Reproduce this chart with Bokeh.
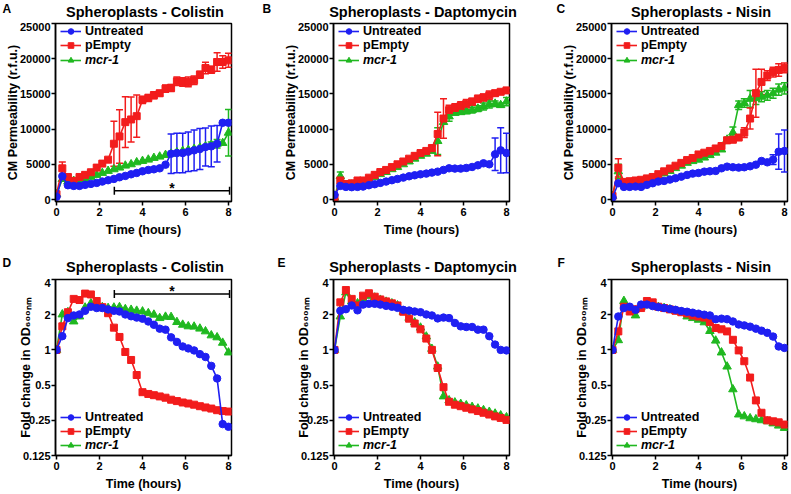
from bokeh.plotting import figure
from bokeh.models import (Range1d, FixedTicker, CustomJSTickFormatter, Legend, LegendItem,
                          Label, Whisker, ColumnDataSource, TeeHead)
from bokeh.layouts import column, row
from bokeh.core.properties import value
from bokeh.embed import file_html
from bokeh.resources import INLINE

# ---------------- data ----------------
TIME = [0, 0.27, 0.53, 0.8, 1.07, 1.33, 1.6, 1.87, 2.13, 2.4, 2.67, 2.93, 3.2, 3.47, 3.73,
        4.0, 4.27, 4.53, 4.8, 5.07, 5.33, 5.6, 5.87, 6.13, 6.4, 6.67, 6.93, 7.2, 7.47, 7.73, 8.0]
X_TICKS = [0, 2, 4, 6, 8]
Y_TICKS_TOP = [0, 5000, 10000, 15000, 20000, 25000]
Y_TICKS_LOG = [0.125, 0.25, 0.5, 1, 2, 4]
SERIES_NAMES = ["Untreated", "pEmpty", "mcr-1"]
TITLES = ["Spheroplasts - Colistin", "Spheroplasts - Daptomycin", "Spheroplasts - Nisin"]
LETTERS_TOP = ["A", "B", "C"]
LETTERS_BOTTOM = ["D", "E", "F"]
X_LABEL = "Time (hours)"
Y_LABEL_TOP = "CM Permeability (r.f.u.)"
Y_LABEL_BOTTOM = "Fold change in OD\u2086\u2080\u2080\u2099\u2098"

# A: Colistin permeability
A_UNTREATED = [380, 3300, 2030, 1930, 1930, 2080, 2220, 2360, 2550, 2740, 2920, 3160, 3350, 3580, 3770,
               4010, 4200, 4290, 4430, 4950, 6510, 6600, 6600, 6790, 6980, 7170, 7450, 7550, 7920, 10900, 10900]
A_UNTREATED_ERR = [0, 0, 0, 0, 0, 0, 0, 0, 0, 0, 0, 0, 0, 0, 0, 0, 0, 0, 0, 0,
                   2800, 2800, 2800, 2800, 2900, 2900, 2700, 2900, 2600, 0, 0]
A_PEMPTY = [750, 4430, 3200, 2640, 3200, 3500, 3870, 4530, 5100, 5660, 7920, 8960, 10990, 11370, 11840,
            14150, 14430, 14810, 15090, 15750, 15850, 16790, 16700, 16700, 16930, 17730, 18680, 18440, 19530, 19530, 19770]
A_PEMPTY_ERR = [0, 900, 300, 200, 200, 200, 200, 200, 200, 200, 3200, 3800, 3600, 3200, 3000,
                500, 500, 500, 400, 500, 500, 600, 600, 700, 600, 500, 800, 500, 1300, 900, 1000]
A_MCR1 = [750, 2900, 2550, 2640, 2740, 2920, 3210, 3490, 3770, 4060, 4290, 4530, 4810, 5000, 5280,
          5470, 5660, 5900, 6090, 6320, 6510, 6700, 6890, 7030, 7170, 7360, 7550, 7780, 7920, 8020, 9480]
A_MCR1_ERR = [0, 0, 0, 0, 0, 0, 0, 0, 0, 0, 0, 0, 0, 0, 0, 0, 0, 0, 0, 0,
              0, 0, 0, 0, 0, 0, 0, 400, 600, 0, 3300]

# B: Daptomycin permeability
B_UNTREATED = [660, 1930, 1790, 1750, 1790, 1840, 2030, 2170, 2360, 2550, 2740, 2920, 3110, 3300, 3440,
               3580, 3680, 3820, 3960, 4200, 4430, 4390, 4390, 4480, 4620, 4860, 5140, 5000, 6420, 6980, 6600]
B_UNTREATED_ERR = [0, 0, 0, 0, 0, 0, 0, 0, 0, 0, 0, 0, 0, 0, 0, 0, 0, 0, 0, 0,
                   0, 0, 0, 0, 0, 0, 0, 0, 2300, 3200, 2800]
B_PEMPTY = [280, 2700, 2200, 2300, 2700, 2700, 3100, 3500, 3900, 4200, 4600, 5000, 5400, 5800, 6200,
            6600, 6900, 7300, 9300, 11500, 12700, 13000, 13300, 13600, 13900, 14300, 14500, 14800, 15100, 15300, 15500]
B_PEMPTY_ERR = [0, 500, 0, 0, 0, 0, 0, 0, 0, 0, 0, 0, 0, 0, 0, 0, 300, 400, 3100, 2800,
                700, 600, 600, 600, 500, 500, 500, 600, 400, 300, 300]
B_MCR1 = [280, 3300, 2000, 2100, 2400, 2500, 2800, 3200, 3600, 3900, 4300, 4600, 5000, 5400, 5800,
          6200, 6500, 6900, 8300, 11000, 11800, 12300, 12400, 12500, 12700, 12900, 13200, 13500, 13600, 13400, 13900]
B_MCR1_ERR = [0, 600, 0, 0, 0, 0, 0, 0, 0, 0, 0, 0, 0, 0, 0, 0, 0, 0, 1900, 0,
              700, 300, 300, 300, 400, 400, 500, 500, 400, 300, 600]

# C: Nisin permeability
C_UNTREATED = [280, 2310, 1790, 1790, 1840, 1790, 2080, 2310, 2550, 2640, 2830, 3020, 3250, 3490, 3680,
               3770, 3960, 4010, 4060, 4430, 4670, 4580, 4530, 4580, 4720, 4950, 5470, 5280, 5660, 6790, 6890]
C_UNTREATED_ERR = [0, 0, 0, 0, 0, 0, 0, 0, 0, 0, 0, 0, 0, 0, 0, 0, 0, 0, 0, 0,
                   0, 0, 0, 0, 0, 0, 0, 0, 700, 2500, 3000]
C_PEMPTY = [500, 4500, 2500, 2600, 2700, 2800, 3000, 3200, 3600, 4000, 4400, 4800, 5200, 5600, 5900,
            6400, 6650, 6900, 7250, 7600, 8400, 8500, 8800, 9500, 11500, 15100, 16700, 17600, 18100, 18400, 18700]
C_PEMPTY_ERR = [0, 1300, 0, 0, 0, 0, 0, 0, 0, 0, 0, 0, 0, 0, 0, 0, 0, 0, 0, 0,
                400, 400, 300, 700, 1500, 3400, 1800, 700, 700, 900, 700]
C_MCR1 = [500, 4000, 2300, 2300, 2350, 2450, 2650, 2950, 3350, 3700, 4050, 4450, 4800, 5200, 5450,
          5650, 5950, 6300, 6650, 7100, 8500, 9500, 13400, 13700, 14300, 14400, 14600, 14800, 15100, 15600, 15800]
C_MCR1_ERR = [0, 1000, 0, 0, 0, 0, 0, 0, 0, 0, 0, 0, 0, 0, 0, 0, 0, 0, 0, 200,
              300, 800, 600, 600, 1200, 900, 700, 700, 700, 800, 800]

# D: Colistin OD fold change
D_UNTREATED = [1.0, 1.31, 1.87, 1.97, 2.01, 2.16, 2.34, 2.28, 2.28, 2.22, 2.16, 2.13, 2.01, 1.94, 1.89,
               1.85, 1.75, 1.64, 1.52, 1.49, 1.28, 1.17, 1.07, 1.03, 0.99, 0.92, 0.87, 0.73, 0.57, 0.232, 0.22]
D_PEMPTY = [1.0, 1.59, 2.10, 2.73, 2.67, 3.03, 2.98, 2.62, 2.32, 2.06, 1.55, 1.29, 0.96, 0.82, 0.61,
            0.435, 0.42, 0.41, 0.40, 0.39, 0.375, 0.365, 0.355, 0.348, 0.34, 0.33, 0.322, 0.315, 0.305, 0.30, 0.297]
D_MCR1 = [1.0, 2.01, 2.10, 1.75, 1.93, 2.30, 2.50, 2.40, 2.32, 2.28, 2.30, 2.32, 2.23, 2.20, 2.16,
          2.13, 2.06, 2.0, 1.87, 1.92, 1.91, 1.73, 1.64, 1.59, 1.58, 1.52, 1.44, 1.33, 1.28, 1.15, 0.95]

# E: Daptomycin OD fold change
E_UNTREATED = [1.0, 2.16, 2.23, 2.40, 2.18, 2.44, 2.48, 2.48, 2.44, 2.38, 2.34, 2.29, 2.20, 2.17, 2.13,
               2.10, 2.01, 1.97, 1.86, 1.89, 1.87, 1.70, 1.59, 1.57, 1.57, 1.49, 1.49, 1.31, 1.11, 1.0, 0.99]
E_PEMPTY = [1.0, 2.55, 3.25, 2.73, 2.40, 2.91, 3.05, 2.85, 2.70, 2.60, 2.50, 2.40, 2.12, 1.85, 1.68,
            1.50, 1.25, 1.0, 0.70, 0.48, 0.36, 0.34, 0.33, 0.32, 0.31, 0.30, 0.29, 0.28, 0.27, 0.262, 0.252]
E_MCR1 = [1.0, 1.93, 3.1, 2.6, 2.5, 2.75, 2.9, 2.8, 2.68, 2.58, 2.5, 2.4, 2.12, 1.88, 1.72,
          1.55, 1.3, 1.02, 0.72, 0.40, 0.37, 0.355, 0.345, 0.335, 0.325, 0.315, 0.305, 0.295, 0.285, 0.275, 0.265]

# F: Nisin OD fold change
F_UNTREATED = [1.0, 1.93, 2.28, 2.34, 2.20, 2.44, 2.44, 2.37, 2.32, 2.28, 2.24, 2.2, 2.15, 2.12, 2.08,
               2.04, 2.0, 1.97, 1.83, 1.85, 1.83, 1.75, 1.65, 1.62, 1.58, 1.52, 1.46, 1.4, 1.3, 1.07, 1.04]
F_PEMPTY = [1.0, 1.44, 2.34, 2.13, 2.23, 2.28, 2.62, 2.55, 2.34, 2.28, 2.22, 2.16, 2.10, 2.05, 1.97,
            1.93, 1.89, 1.73, 1.54, 1.50, 1.44, 1.22, 0.99, 0.80, 0.58, 0.37, 0.29, 0.25, 0.245, 0.24, 0.23]
F_MCR1 = [1.0, 1.21, 2.62, 2.28, 1.97, 2.34, 2.46, 2.40, 2.32, 2.28, 2.22, 2.16, 2.10, 1.93, 1.87,
          1.81, 1.72, 1.45, 1.2, 0.95, 0.72, 0.46, 0.28, 0.27, 0.26, 0.255, 0.25, 0.245, 0.235, 0.225, 0.215]

# significance brackets (panels A and D)
SIG_X_START = 2.69
SIG_X_END = 8.05
SIG_Y_A = 1250
SIG_Y_D = 3.0
SIG_TEXT = "*"

# ---------------- style / layout ----------------
FONT = "Liberation Sans"
COLORS = ["#1f1ff2", "#f21c1c", "#20b820"]
MARKERS = ["circle", "square", "triangle"]
SIZES = [7.5, 7, 8.5]

FRAME_W = 176
COLS = [(55, 31), (71, 31), (71, 3)]          # (left border, right border)
TOTAL_W = sum(l + FRAME_W + r for l, r in COLS)
TOP_FRAME_H, BOT_FRAME_H = 179, 177
BORDER_TOP, BORDER_BOTTOM = 1, 37
TOP_STRIP_H, BOT_STRIP_H = 22, 39
LETTER_X_TOP = [2, 262, 556]
LETTER_X_BOT = [2, 277, 557]


def style_axes(p, yticks, log):
    for ax in (p.xaxis[0], p.yaxis[0]):
        ax.axis_line_width = 1.5
        ax.axis_line_color = "black"
        ax.major_tick_line_width = 1.5
        ax.major_tick_line_color = "black"
        ax.major_tick_out = 4
        ax.major_tick_in = 0
        ax.minor_tick_line_color = None
        ax.major_label_text_font = FONT
        ax.major_label_text_font_style = "bold"
        ax.major_label_text_font_size = "11px"
        ax.major_label_text_color = "black"
        ax.axis_label_text_font = FONT
        ax.axis_label_text_font_style = "bold"
        ax.axis_label_text_font_size = "12.5px"
        ax.axis_label_text_color = "black"
    p.xaxis.major_label_standoff = 2
    p.xaxis.axis_label_standoff = 4
    p.yaxis.major_label_standoff = 1
    p.yaxis.axis_label_standoff = -13 if log else -3
    p.xaxis.ticker = FixedTicker(ticks=X_TICKS)
    p.yaxis.ticker = FixedTicker(ticks=yticks)
    if log:
        p.yaxis.formatter = CustomJSTickFormatter(code="return tick.toString();")


def make_panel(col, ylabel, values, errors, log, top_row, sig_y=None):
    bl, br = COLS[col]
    frame_h = TOP_FRAME_H if top_row else BOT_FRAME_H
    kw = dict(width=bl + FRAME_W + br, height=BORDER_TOP + frame_h + BORDER_BOTTOM,
              output_backend="svg", toolbar_location=None, title=None,
              min_border_left=bl, min_border_right=br,
              min_border_top=BORDER_TOP, min_border_bottom=BORDER_BOTTOM,
              x_range=Range1d(-0.047, 8.14))
    if log:
        p = figure(y_axis_type="log", y_range=Range1d(0.125, 4), **kw)
    else:
        p = figure(y_range=Range1d(-283, 25000), **kw)
    p.outline_line_color = "black"
    p.outline_line_width = 1.5
    p.outline_line_alpha = 1
    p.xgrid.visible = False
    p.ygrid.visible = False
    p.background_fill_color = "white"
    p.border_fill_color = "white"
    p.xaxis.axis_label = X_LABEL
    p.yaxis.axis_label = ylabel
    style_axes(p, Y_TICKS_LOG if log else Y_TICKS_TOP, log)

    rends = [None, None, None]
    for k in (2, 1, 0):  # Untreated drawn last (on top)
        vals = values[k]
        color = COLORS[k]
        src = ColumnDataSource(dict(x=TIME, y=vals))
        ln = p.line("x", "y", source=src, line_color=color, line_width=1.6)
        sc = p.scatter("x", "y", source=src, marker=MARKERS[k], size=SIZES[k],
                       fill_color=color, line_color=color)
        if errors is not None:
            ex, eu, el = [], [], []
            for t, v, e in zip(TIME, vals, errors[k]):
                if e > 0:
                    ex.append(t)
                    eu.append(v + e)
                    el.append(v - e)
            if ex:
                esrc = ColumnDataSource(dict(base=ex, upper=eu, lower=el))
                p.add_layout(Whisker(base="base", upper="upper", lower="lower", source=esrc,
                                     line_color=color, line_width=1.5,
                                     upper_head=TeeHead(size=7, line_color=color, line_width=1.5),
                                     lower_head=TeeHead(size=7, line_color=color, line_width=1.5)))
        rends[k] = [ln, sc]

    if top_row:
        y1, y2 = frame_h - 30, frame_h - 45
    else:
        y1, y2 = 17, 3
    for items, y, style in (([LegendItem(label=SERIES_NAMES[0], renderers=rends[0]),
                              LegendItem(label=SERIES_NAMES[1], renderers=rends[1])], y1, "bold"),
                            ([LegendItem(label=SERIES_NAMES[2], renderers=rends[2])], y2, "bold italic")):
        p.add_layout(Legend(items=items, location=(5, y), orientation="vertical",
                            label_text_font=FONT, label_text_font_style=style,
                            label_text_font_size="12.5px", label_text_color="black",
                            glyph_width=21, glyph_height=14, label_height=14, label_standoff=4,
                            spacing=0, padding=0, margin=0,
                            border_line_color=None, background_fill_alpha=0))

    if sig_y is not None:
        ssrc = ColumnDataSource(dict(base=[sig_y], lower=[SIG_X_START], upper=[SIG_X_END]))
        p.add_layout(Whisker(base="base", lower="lower", upper="upper", source=ssrc, dimension="width",
                             line_color="black", line_width=1.5,
                             upper_head=TeeHead(size=8, line_color="black", line_width=1.5),
                             lower_head=TeeHead(size=8, line_color="black", line_width=1.5)))
        p.add_layout(Label(x=(SIG_X_START + SIG_X_END) / 2, y=sig_y, text=SIG_TEXT,
                           text_align="center", text_baseline="middle", y_offset=3,
                           text_font=FONT, text_font_style="bold", text_font_size="14px",
                           text_color="black"))
    return p


def make_strip(height, letters, letter_x, letter_y, title_y):
    s = figure(width=TOTAL_W, height=height, output_backend="svg", toolbar_location=None, title=None,
               x_range=Range1d(0, TOTAL_W), y_range=Range1d(0, height), min_border=0,
               x_axis_location=None, y_axis_location=None)
    s.outline_line_color = None
    s.xgrid.visible = False
    s.ygrid.visible = False
    s.background_fill_color = "white"
    s.border_fill_color = "white"
    centres = []
    left = 0
    for bl, br in COLS:
        centres.append(left + bl + FRAME_W / 2 + 1.5)
        left += bl + FRAME_W + br
    s.text(x=letter_x, y=[letter_y] * 3, text=letters, text_font=value(FONT), text_font_style="bold",
           text_font_size="12px", text_align="left", text_baseline="middle", text_color="black")
    s.text(x=centres, y=[title_y] * 3, text=TITLES, text_font=value(FONT), text_font_style="bold",
           text_font_size="14.5px", text_align="center", text_baseline="middle", text_color="black")
    return s


top_vals = [[A_UNTREATED, A_PEMPTY, A_MCR1], [B_UNTREATED, B_PEMPTY, B_MCR1], [C_UNTREATED, C_PEMPTY, C_MCR1]]
top_errs = [[A_UNTREATED_ERR, A_PEMPTY_ERR, A_MCR1_ERR], [B_UNTREATED_ERR, B_PEMPTY_ERR, B_MCR1_ERR],
            [C_UNTREATED_ERR, C_PEMPTY_ERR, C_MCR1_ERR]]
bot_vals = [[D_UNTREATED, D_PEMPTY, D_MCR1], [E_UNTREATED, E_PEMPTY, E_MCR1], [F_UNTREATED, F_PEMPTY, F_MCR1]]

top = [make_panel(c, Y_LABEL_TOP, top_vals[c], top_errs[c], False, True, SIG_Y_A if c == 0 else None)
       for c in range(3)]
bot = [make_panel(c, Y_LABEL_BOTTOM, bot_vals[c], None, True, False, SIG_Y_D if c == 0 else None)
       for c in range(3)]

strip_top = make_strip(TOP_STRIP_H, LETTERS_TOP, LETTER_X_TOP, 14, 11)
strip_bot = make_strip(BOT_STRIP_H, LETTERS_BOTTOM, LETTER_X_BOT, 15.5, 11.2)

layout = column(strip_top, row(*top), strip_bot, row(*bot))
open("out.html", "w").write(file_html(layout, INLINE))
